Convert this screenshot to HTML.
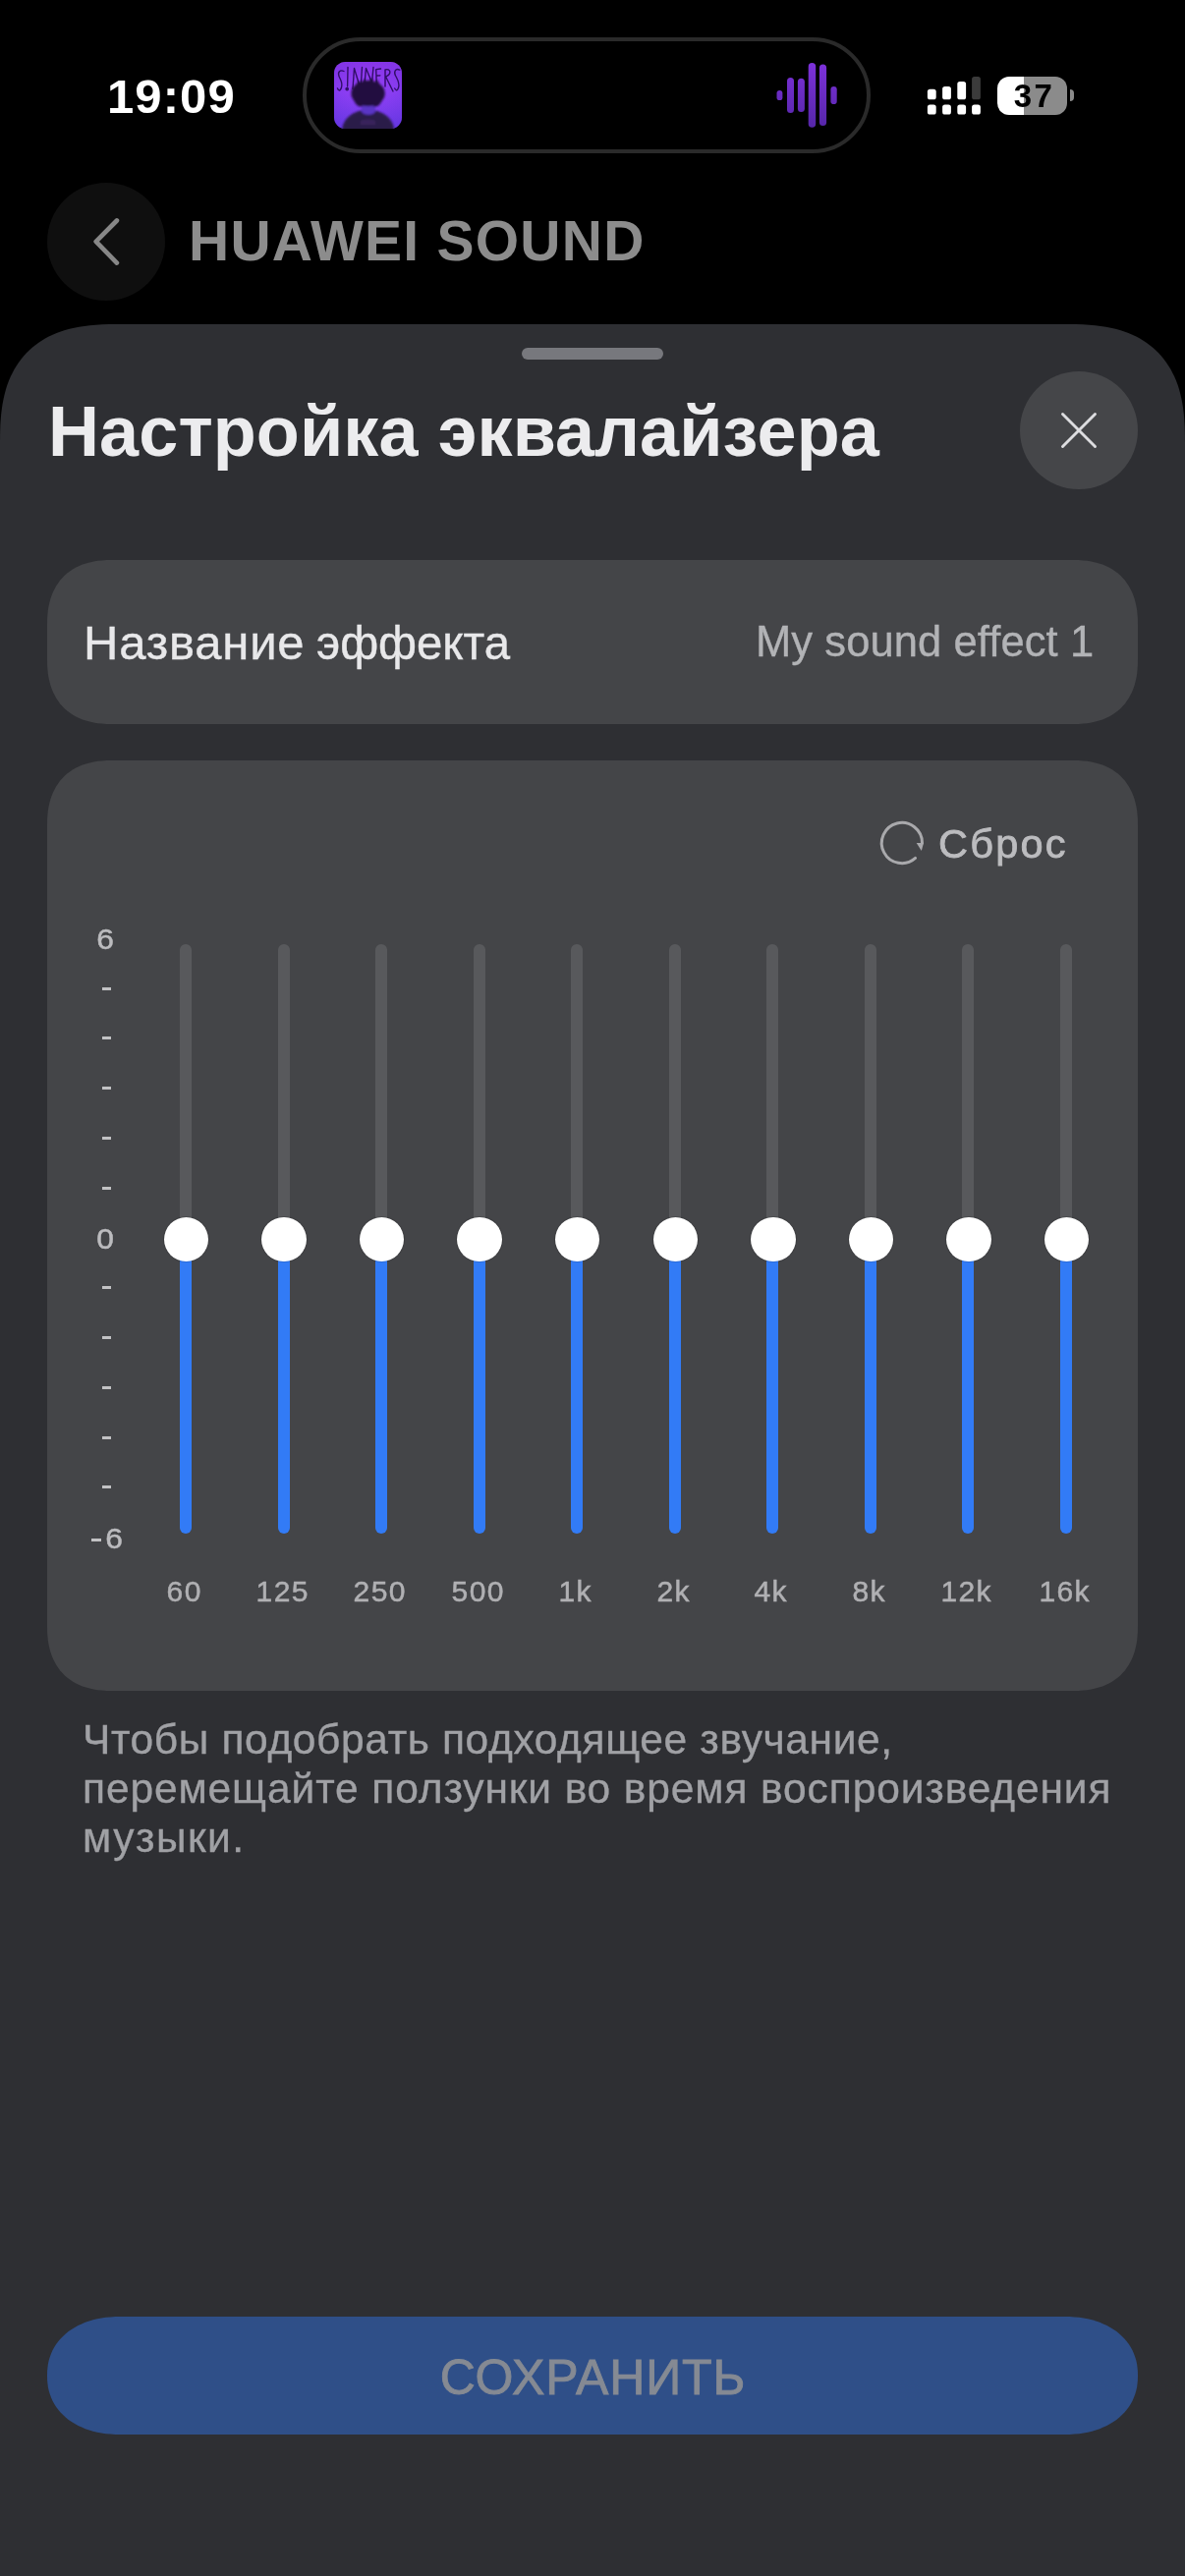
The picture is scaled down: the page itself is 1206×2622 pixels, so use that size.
<!DOCTYPE html>
<html lang="ru">
<head>
<meta charset="utf-8">
<title>Настройка эквалайзера</title>
<style>
*{margin:0;padding:0;box-sizing:border-box}
html,body{width:1206px;height:2622px;background:#000;overflow:hidden}
body{position:relative;font-family:"Liberation Sans",sans-serif;color:#fff}
.abs{position:absolute}
.t{position:absolute;white-space:nowrap;line-height:1;will-change:transform}
/* status bar */
#time{left:109px;top:74px;font-size:49px;font-weight:bold;color:#fff;letter-spacing:1.1px}
#island{left:308px;top:38px;width:578px;height:118px;border-radius:59px;border:4.5px solid #2a2a2a;background:#000}
#album{left:340px;top:63px;width:69px;height:68px}
#wave{left:780px;top:55px;width:80px;height:84px}
#signal{left:940px;top:74px;width:64px;height:46px}
#batt{left:1015px;top:78px;width:71px;height:39px;border-radius:12px;background:linear-gradient(90deg,#fff 0,#fff 27.5px,#8b8b8b 27.5px,#8b8b8b 100%)}
#battnub{left:1089px;top:91px;width:4px;height:12px;background:#8b8b8b;border-radius:0 4px 4px 0}
#batttxt{left:1016.5px;top:81px;width:71px;text-align:center;font-size:33px;font-weight:bold;color:#000;letter-spacing:2.4px}
/* nav */
#back{left:48px;top:186px;width:120px;height:120px;border-radius:60px;background:#0f0f0f}
#navtitle{left:192px;top:217px;font-size:57px;font-weight:bold;color:#8c8c8c;letter-spacing:1.24px}
/* sheet */
#sheet{left:0;top:330px;width:1206px;height:2292px}
#grab{left:531px;top:354px;width:144px;height:12px;border-radius:6px;background:#77787d}
#title{left:49px;top:402.9px;font-size:72px;font-weight:bold;color:#ececee;letter-spacing:0.1px}
#close{left:1038px;top:378px;width:120px;height:120px;border-radius:60px;background:#454649}
.card{position:absolute;left:48px;width:1110px;background:#444548;border-radius:50px}
#namecard{top:570px;height:167px}
#namelbl{left:84.6px;top:629.7px;font-size:49px;color:#e8e8ea;letter-spacing:0px;-webkit-text-stroke:0.4px #e8e8ea}
#nameval{right:92.5px;top:632.1px;font-size:43.5px;color:#b2b3b6;letter-spacing:0.1px;-webkit-text-stroke:0.35px #b2b3b6}
#eqcard{top:774px;height:947px}
#resettxt{left:955px;top:837.9px;font-size:41.5px;color:#bcbcbf;letter-spacing:2.2px;-webkit-text-stroke:0.8px #bcbcbf}
#reseticon{left:890px;top:830px;width:56px;height:56px}
.trk{position:absolute;top:961px;width:12px;height:600px;border-radius:6px;background:linear-gradient(180deg,#58595c 0,#58595c 300px,#327bf6 300px,#327bf6 100%)}
.th{position:absolute;top:1238.5px;width:45.5px;height:45.5px;border-radius:50%;background:#fff;box-shadow:0 0 0 1px rgba(0,0,0,.12)}
.fl{will-change:transform;position:absolute;top:1605px;width:100px;text-align:center;font-size:30px;letter-spacing:1.4px;padding-left:1.4px;-webkit-text-stroke:0.5px #b0b0b3;line-height:1;color:#b0b0b3;white-space:nowrap}
.sc{will-change:transform;position:absolute;left:57px;width:100px;text-align:center;font-size:30px;-webkit-text-stroke:0.5px #bcbcbf;transform:scaleX(1.06);line-height:1;color:#bcbcbf;white-space:nowrap}
.dash{position:absolute;left:104px;width:9.3px;height:3.2px;background:#c2c2c4}
.d{font-size:42.5px;color:#a0a1a5;left:84px;-webkit-text-stroke:0.35px #a0a1a5}
#savetxt{left:48px;top:2395.3px;width:1110px;text-align:center;font-size:50px;color:#858a93;letter-spacing:0.85px;padding-left:0.85px;-webkit-text-stroke:0.9px #858a93}
</style>
</head>
<body>
<!-- status bar -->
<div class="t" id="time">19:09</div>
<div class="abs" id="island"></div>
<svg class="abs" id="album" viewBox="0 0 69 68"><defs><clipPath id="ac"><rect width="69" height="68" rx="11.5"/></clipPath><linearGradient id="ag" x1="0" y1="0" x2="0" y2="1"><stop offset="0" stop-color="#9b38ee"/><stop offset=".45" stop-color="#9340f6"/><stop offset="1" stop-color="#6a3ae6"/></linearGradient><radialGradient id="ar" cx=".5" cy=".55" r=".6"><stop offset="0" stop-color="#7d3cf0" stop-opacity=".0"/><stop offset="1" stop-color="#5a2fd8" stop-opacity=".35"/></radialGradient><filter id="ab" x="-20%" y="-20%" width="140%" height="140%"><feGaussianBlur stdDeviation="0.9"/></filter><filter id="ab2" x="-20%" y="-20%" width="140%" height="140%"><feGaussianBlur stdDeviation="0.45"/></filter></defs><g clip-path="url(#ac)"><rect width="69" height="68" fill="url(#ag)"/><rect width="69" height="68" fill="url(#ar)"/><g fill="none" stroke="#2c0a5e" stroke-width="1.35" stroke-linecap="round" stroke-linejoin="round" filter="url(#ab2)" opacity=".95"><path d="M10 9.5C6 7.5 3.5 10.5 5 14.5S9 21 7.5 26S4 28.5 3.5 27"/><path d="M14 5.5L13.6 25"/><path d="M19 27.5L20.5 6.5L27 28L28.5 5.5"/><path d="M31 22L32.5 6.5L38.5 21L40 5.5"/><path d="M47.5 7L42.7 7.6L43.2 21M43 14L46.8 13.8"/><path d="M52 25L52 8C57 6 59.5 12 52.6 15L60 30"/><path d="M66.8 8.2C62.5 6 60.5 10 62.5 14S67 21 65.6 26S62.3 28 61.7 27"/><circle cx="13.2" cy="27.6" r="1.2" fill="#2c0a5e"/></g><g filter="url(#ab)"><ellipse cx="34.6" cy="70" rx="26.5" ry="21.5" fill="#2a1a48"/><path d="M28 38h14v12c0 5-14 5-14 0z" fill="#5a34c4"/><ellipse cx="34.6" cy="32" rx="17.2" ry="13" fill="#23103f"/><path d="M22 24l3-5 3 4 3-6 3 5 4-6 3 6 3-4 3 6z" fill="#23103f"/><path d="M19 36c2 7 6 11 10 9l2-8zM50 36c-2 7-6 11-10 9l-2-8z" fill="#23103f"/><path d="M27 60c4-2 11-2 15 0v4h-15z" fill="#3b2762" opacity=".8"/></g></g></svg>
<svg class="abs" id="wave" viewBox="0 0 80 84"><defs><linearGradient id="wg" x1="0" y1="0" x2="0" y2="1" gradientUnits="objectBoundingBox"><stop offset="0" stop-color="#7a30d8"/><stop offset="1" stop-color="#5727ae"/></linearGradient><linearGradient id="wg2" x1="0" y1="9" x2="0" y2="75" gradientUnits="userSpaceOnUse"><stop offset="0" stop-color="#7d31da"/><stop offset="1" stop-color="#5526a8"/></linearGradient></defs><g fill="url(#wg2)"><rect x="10.5" y="36.9" width="5.9" height="10.2" rx="2.95"/><rect x="21" y="23.9" width="7" height="36.1" rx="3.5"/><rect x="31.9" y="24.7" width="7" height="34.4" rx="3.5"/><rect x="42.7" y="8.9" width="7.5" height="65.8" rx="3.75"/><rect x="53.9" y="10.6" width="7.2" height="62.5" rx="3.6"/><rect x="65.4" y="33" width="6.3" height="18.1" rx="3.15"/></g></svg>
<svg class="abs" id="signal" viewBox="0 0 64 46"><g fill="#fff"><rect x="3.9" y="32.5" width="8.8" height="10" rx="2.6"/><rect x="19.1" y="32.5" width="8.8" height="10" rx="2.6"/><rect x="34.3" y="32.5" width="8.8" height="10" rx="2.6"/><rect x="49.1" y="32.5" width="8.8" height="10" rx="2.6"/><rect x="3.9" y="16.7" width="8.8" height="10.6" rx="2.6"/><rect x="19.1" y="14" width="8.8" height="13.3" rx="2.6"/><rect x="34.3" y="9.1" width="8.8" height="18.2" rx="2.6"/></g><rect x="49.1" y="4.1" width="8.8" height="23.2" rx="2.6" fill="#3b3b3b"/></svg>
<div class="abs" id="batt"></div>
<div class="abs" id="battnub"></div>
<div class="t" id="batttxt">37</div>
<!-- nav -->
<div class="abs" id="back"></div>
<svg class="abs" id="backic" style="left:88px;top:216px;width:40px;height:60px" viewBox="0 0 40 60"><path d="M30.9 8.5 L9.7 29.8 L30.9 51.6" fill="none" stroke="#878787" stroke-width="4.7" stroke-linecap="round" stroke-linejoin="round"/></svg>
<div class="t" id="navtitle">HUAWEI SOUND</div>
<!-- sheet -->
<svg class="abs" id="sheet" viewBox="0 0 1206 2292"><path d="M0 2292 L0 122 L0.1 111.2 L0.3 103.8 L0.7 97.3 L1.2 91.3 L1.9 85.8 L2.7 80.5 L3.7 75.5 L4.8 70.8 L6.0 66.2 L7.4 61.8 L9.0 57.6 L10.7 53.6 L12.6 49.7 L14.5 46.0 L16.7 42.4 L19.0 39.0 L21.4 35.7 L24.0 32.5 L26.7 29.5 L29.5 26.7 L32.5 24.0 L35.7 21.4 L39.0 19.0 L42.4 16.7 L46.0 14.5 L49.7 12.6 L53.6 10.7 L57.6 9.0 L61.8 7.4 L66.2 6.0 L70.8 4.8 L75.5 3.7 L80.5 2.7 L85.8 1.9 L91.3 1.2 L97.3 0.7 L103.8 0.3 L111.2 0.1 L122.0 0.0 L1084.0 0.0 L1094.8 0.1 L1102.2 0.3 L1108.7 0.7 L1114.7 1.2 L1120.2 1.9 L1125.5 2.7 L1130.5 3.7 L1135.2 4.8 L1139.8 6.0 L1144.2 7.4 L1148.4 9.0 L1152.4 10.7 L1156.3 12.6 L1160.0 14.5 L1163.6 16.7 L1167.0 19.0 L1170.3 21.4 L1173.5 24.0 L1176.5 26.7 L1179.3 29.5 L1182.0 32.5 L1184.6 35.7 L1187.0 39.0 L1189.3 42.4 L1191.5 46.0 L1193.4 49.7 L1195.3 53.6 L1197.0 57.6 L1198.6 61.8 L1200.0 66.2 L1201.2 70.8 L1202.3 75.5 L1203.3 80.5 L1204.1 85.8 L1204.8 91.3 L1205.3 97.3 L1205.7 103.8 L1205.9 111.2 L1206.0 122.0 L1206 2292 Z" fill="#2e2f33"/></svg>
<div class="abs" id="grab"></div>
<div class="t" id="title">Настройка эквалайзера</div>
<div class="abs" id="close"></div>
<svg class="abs" id="closeic" style="left:1074px;top:414px;width:48px;height:48px" viewBox="0 0 48 48"><path d="M7.5 7.5 L40.5 40.5 M40.5 7.5 L7.5 40.5" fill="none" stroke="#dddde0" stroke-width="2.9" stroke-linecap="round"/></svg>
<svg class="abs" id="namecard" style="left:48px;top:570px;width:1110px;height:167px" viewBox="0 0 1110 167"><path d="M0.0 67.0 L0.1 60.7 L0.4 55.9 L0.8 51.4 L1.5 47.3 L2.4 43.3 L3.4 39.6 L4.6 36.0 L6.0 32.6 L7.6 29.4 L9.3 26.3 L11.2 23.4 L13.3 20.6 L15.6 18.0 L18.0 15.6 L20.6 13.3 L23.4 11.2 L26.3 9.3 L29.4 7.6 L32.6 6.0 L36.0 4.6 L39.6 3.4 L43.3 2.4 L47.3 1.5 L51.4 0.8 L55.9 0.4 L60.7 0.1 L67.0 0.0 L1043.0 0.0 L1049.3 0.1 L1054.1 0.4 L1058.6 0.8 L1062.7 1.5 L1066.7 2.4 L1070.4 3.4 L1074.0 4.6 L1077.4 6.0 L1080.6 7.6 L1083.7 9.3 L1086.6 11.2 L1089.4 13.3 L1092.0 15.6 L1094.4 18.0 L1096.7 20.6 L1098.8 23.4 L1100.7 26.3 L1102.4 29.4 L1104.0 32.6 L1105.4 36.0 L1106.6 39.6 L1107.6 43.3 L1108.5 47.3 L1109.2 51.4 L1109.6 55.9 L1109.9 60.7 L1110.0 67.0 L1110.0 100.0 L1109.9 106.3 L1109.6 111.1 L1109.2 115.6 L1108.5 119.7 L1107.6 123.7 L1106.6 127.4 L1105.4 131.0 L1104.0 134.4 L1102.4 137.6 L1100.7 140.7 L1098.8 143.6 L1096.7 146.4 L1094.4 149.0 L1092.0 151.4 L1089.4 153.7 L1086.6 155.8 L1083.7 157.7 L1080.6 159.4 L1077.4 161.0 L1074.0 162.4 L1070.4 163.6 L1066.7 164.6 L1062.7 165.5 L1058.6 166.2 L1054.1 166.6 L1049.3 166.9 L1043.0 167.0 L67.0 167.0 L60.7 166.9 L55.9 166.6 L51.4 166.2 L47.3 165.5 L43.3 164.6 L39.6 163.6 L36.0 162.4 L32.6 161.0 L29.4 159.4 L26.3 157.7 L23.4 155.8 L20.6 153.7 L18.0 151.4 L15.6 149.0 L13.3 146.4 L11.2 143.6 L9.3 140.7 L7.6 137.6 L6.0 134.4 L4.6 131.0 L3.4 127.4 L2.4 123.7 L1.5 119.7 L0.8 115.6 L0.4 111.1 L0.1 106.3 L0.0 100.0Z" fill="#444548"/></svg>
<div class="t" id="namelbl"><span style="letter-spacing:0.8px">Название</span><span style="letter-spacing:-1.6px"> </span><span style="display:inline-block;transform:scaleX(0.966);transform-origin:0 50%">эффекта</span></div>
<div class="t" id="nameval">My sound effect 1</div>
<svg class="abs" id="eqcard" style="left:48px;top:774px;width:1110px;height:947px" viewBox="0 0 1110 947"><path d="M0.0 67.0 L0.1 60.7 L0.4 55.9 L0.8 51.4 L1.5 47.3 L2.4 43.3 L3.4 39.6 L4.6 36.0 L6.0 32.6 L7.6 29.4 L9.3 26.3 L11.2 23.4 L13.3 20.6 L15.6 18.0 L18.0 15.6 L20.6 13.3 L23.4 11.2 L26.3 9.3 L29.4 7.6 L32.6 6.0 L36.0 4.6 L39.6 3.4 L43.3 2.4 L47.3 1.5 L51.4 0.8 L55.9 0.4 L60.7 0.1 L67.0 0.0 L1043.0 0.0 L1049.3 0.1 L1054.1 0.4 L1058.6 0.8 L1062.7 1.5 L1066.7 2.4 L1070.4 3.4 L1074.0 4.6 L1077.4 6.0 L1080.6 7.6 L1083.7 9.3 L1086.6 11.2 L1089.4 13.3 L1092.0 15.6 L1094.4 18.0 L1096.7 20.6 L1098.8 23.4 L1100.7 26.3 L1102.4 29.4 L1104.0 32.6 L1105.4 36.0 L1106.6 39.6 L1107.6 43.3 L1108.5 47.3 L1109.2 51.4 L1109.6 55.9 L1109.9 60.7 L1110.0 67.0 L1110.0 880.0 L1109.9 886.3 L1109.6 891.1 L1109.2 895.6 L1108.5 899.7 L1107.6 903.7 L1106.6 907.4 L1105.4 911.0 L1104.0 914.4 L1102.4 917.6 L1100.7 920.7 L1098.8 923.6 L1096.7 926.4 L1094.4 929.0 L1092.0 931.4 L1089.4 933.7 L1086.6 935.8 L1083.7 937.7 L1080.6 939.4 L1077.4 941.0 L1074.0 942.4 L1070.4 943.6 L1066.7 944.6 L1062.7 945.5 L1058.6 946.2 L1054.1 946.6 L1049.3 946.9 L1043.0 947.0 L67.0 947.0 L60.7 946.9 L55.9 946.6 L51.4 946.2 L47.3 945.5 L43.3 944.6 L39.6 943.6 L36.0 942.4 L32.6 941.0 L29.4 939.4 L26.3 937.7 L23.4 935.8 L20.6 933.7 L18.0 931.4 L15.6 929.0 L13.3 926.4 L11.2 923.6 L9.3 920.7 L7.6 917.6 L6.0 914.4 L4.6 911.0 L3.4 907.4 L2.4 903.7 L1.5 899.7 L0.8 895.6 L0.4 891.1 L0.1 886.3 L0.0 880.0Z" fill="#444548"/></svg>
<svg class="abs" id="reseticon" viewBox="0 0 56 56"><path d="M41.58 43.4 A20.6 20.6 0 1 1 48.5 28" fill="none" stroke="#a9a9ac" stroke-width="3" stroke-linecap="round"/><path d="M42.7 27.9 L50 27.9 L47.8 36 Z" fill="#a9a9ac"/></svg>
<div class="t" id="resettxt">Сброс</div>
<div id="eq">
<div class="trk" style="left:182.9px"></div>
<div class="trk" style="left:282.5px"></div>
<div class="trk" style="left:382.1px"></div>
<div class="trk" style="left:481.6px"></div>
<div class="trk" style="left:581.2px"></div>
<div class="trk" style="left:680.8px"></div>
<div class="trk" style="left:780.3px"></div>
<div class="trk" style="left:879.9px"></div>
<div class="trk" style="left:979.4px"></div>
<div class="trk" style="left:1079.0px"></div>
<div class="th" style="left:166.7px"></div>
<div class="th" style="left:266.3px"></div>
<div class="th" style="left:365.8px"></div>
<div class="th" style="left:465.4px"></div>
<div class="th" style="left:564.9px"></div>
<div class="th" style="left:664.5px"></div>
<div class="th" style="left:764.1px"></div>
<div class="th" style="left:863.6px"></div>
<div class="th" style="left:963.2px"></div>
<div class="th" style="left:1062.7px"></div>
<div class="fl" style="left:136.9px">60</div>
<div class="fl" style="left:236.5px">125</div>
<div class="fl" style="left:336.1px">250</div>
<div class="fl" style="left:435.6px">500</div>
<div class="fl" style="left:535.2px">1k</div>
<div class="fl" style="left:634.8px">2k</div>
<div class="fl" style="left:734.3px">4k</div>
<div class="fl" style="left:833.9px">8k</div>
<div class="fl" style="left:933.4px">12k</div>
<div class="fl" style="left:1033.0px">16k</div>
<div class="sc" id="sc6" style="top:940.5px">6</div>
<div class="dash" style="top:1004.8px"></div>
<div class="dash" style="top:1054.9px"></div>
<div class="dash" style="top:1105.7px"></div>
<div class="dash" style="top:1156.7px"></div>
<div class="dash" style="top:1207.7px"></div>
<div class="sc" id="sc0" style="top:1245.6px">0</div>
<div class="dash" style="top:1308.7px"></div>
<div class="dash" style="top:1359.8px"></div>
<div class="dash" style="top:1410.7px"></div>
<div class="dash" style="top:1461.7px"></div>
<div class="dash" style="top:1512.0px"></div>
<div class="sc" id="scm6" style="top:1550.7px;left:65.5px">6</div>
<div class="dash" style="left:92.7px;width:10.5px;height:3.4px;top:1565.6px"></div>
</div><!--eqend-->
<div class="t d" id="d1" style="top:1749.9px;letter-spacing:0.63px">Чтобы подобрать подходящее звучание,</div>
<div class="t d" id="d2" style="top:1800.3px;letter-spacing:0.89px">перемещайте ползунки во время воспроизведения</div>
<div class="t d" id="d3" style="top:1849.6px;letter-spacing:1.5px">музыки.</div>
<svg class="abs" id="save" style="left:48px;top:2358px;width:1110px;height:120px" viewBox="0 0 1110 120"><path d="M0.0 60.0 L0.1 55.5 L0.5 51.5 L1.0 47.8 L1.8 44.2 L2.9 40.7 L4.1 37.4 L5.6 34.1 L7.3 31.0 L9.2 28.0 L11.3 25.2 L13.6 22.5 L16.1 19.9 L18.8 17.4 L21.7 15.1 L24.8 12.9 L28.1 10.9 L31.5 9.0 L35.1 7.4 L38.8 5.8 L42.7 4.5 L46.7 3.3 L50.9 2.3 L55.2 1.5 L59.7 0.8 L64.4 0.4 L69.4 0.1 L75.0 0.0 L1035.0 0.0 L1040.6 0.1 L1045.6 0.4 L1050.3 0.8 L1054.8 1.5 L1059.1 2.3 L1063.3 3.3 L1067.3 4.5 L1071.2 5.8 L1074.9 7.4 L1078.5 9.0 L1081.9 10.9 L1085.2 12.9 L1088.3 15.1 L1091.2 17.4 L1093.9 19.9 L1096.4 22.5 L1098.7 25.2 L1100.8 28.0 L1102.7 31.0 L1104.4 34.1 L1105.9 37.4 L1107.1 40.7 L1108.2 44.2 L1109.0 47.8 L1109.5 51.5 L1109.9 55.5 L1110.0 60.0 L1110.0 60.0 L1109.9 64.5 L1109.5 68.5 L1109.0 72.2 L1108.2 75.8 L1107.1 79.3 L1105.9 82.6 L1104.4 85.9 L1102.7 89.0 L1100.8 92.0 L1098.7 94.8 L1096.4 97.5 L1093.9 100.1 L1091.2 102.6 L1088.3 104.9 L1085.2 107.1 L1081.9 109.1 L1078.5 111.0 L1074.9 112.6 L1071.2 114.2 L1067.3 115.5 L1063.3 116.7 L1059.1 117.7 L1054.8 118.5 L1050.3 119.2 L1045.6 119.6 L1040.6 119.9 L1035.0 120.0 L75.0 120.0 L69.4 119.9 L64.4 119.6 L59.7 119.2 L55.2 118.5 L50.9 117.7 L46.7 116.7 L42.7 115.5 L38.8 114.2 L35.1 112.6 L31.5 111.0 L28.1 109.1 L24.8 107.1 L21.7 104.9 L18.8 102.6 L16.1 100.1 L13.6 97.5 L11.3 94.8 L9.2 92.0 L7.3 89.0 L5.6 85.9 L4.1 82.6 L2.9 79.3 L1.8 75.8 L1.0 72.2 L0.5 68.5 L0.1 64.5 L0.0 60.0Z" fill="#2f4f88"/></svg>
<div class="t" id="savetxt">СОХРАНИТЬ</div>
</body>
</html>
